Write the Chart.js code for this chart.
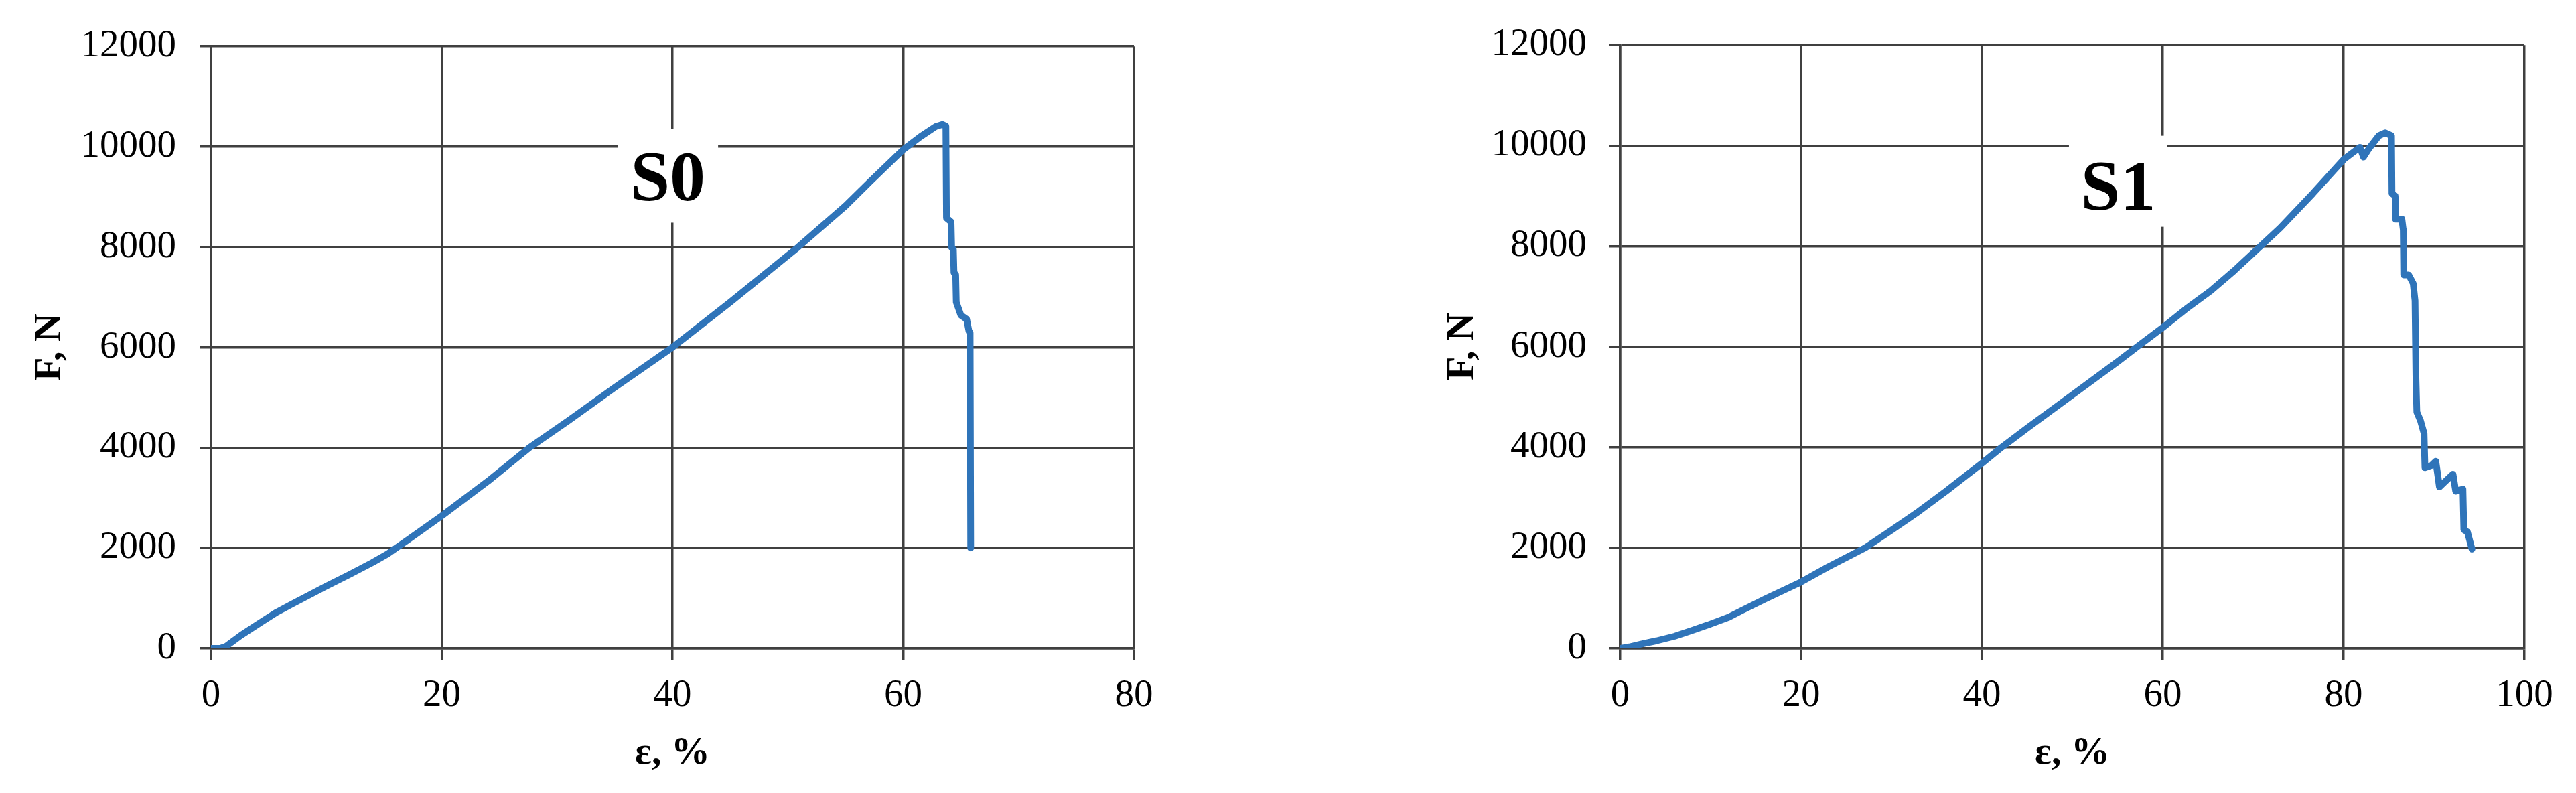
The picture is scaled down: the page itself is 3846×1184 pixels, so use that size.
<!DOCTYPE html>
<html>
<head>
<meta charset="utf-8">
<script src="https://cdn.jsdelivr.net/npm/chart.js@4.4.1/dist/chart.umd.min.js"></script>
<style>
  html, body { margin: 0; padding: 0; background: #fff; }
  body { width: 3846px; height: 1184px; position: relative; overflow: hidden; }
  canvas { position: absolute; top: 0; }
  #chartS0 { left: 0; }
  #chartS1 { left: 2100px; }
</style>
</head>
<body>
<canvas id="chartS0" width="1750" height="1184"></canvas>
<canvas id="chartS1" width="1746" height="1184"></canvas>
<script>
// S0 sample: strain (%) and force (N)
const s0Strain = [0, 0.8, 1.3, 2.6, 4.2, 5.7, 7, 8.5, 10, 12, 14, 15.3, 17, 20, 24, 27.6, 31, 35, 40, 45, 50.9, 55, 57.2, 60, 61.5, 62.8, 63.4, 63.7,
  63.75, 64.15, 64.2, 64.35, 64.4, 64.55, 64.6, 65.0, 65.5, 65.7, 65.8, 65.85];
const s0Force = [0, 0, 40, 260, 500, 720, 880, 1060, 1240, 1470, 1710, 1880, 2150, 2640, 3330, 4000, 4540, 5200, 6000, 6900, 8000, 8820, 9320, 9940, 10200, 10400, 10445, 10410,
  8580, 8500, 7990, 7950, 7490, 7450, 6900, 6640, 6560, 6320, 6290, 2000];

// S1 sample
const s1Strain = [0, 1, 2.3, 4, 6, 8, 9.7, 12, 13.4, 16, 18, 20, 23, 27.1, 30, 33, 36, 40, 42.2, 45, 50, 55, 57.2, 60, 62.5, 65.3, 67.9, 70.45, 73, 76.6, 80,
  81.8, 82.2, 82.8, 83.9, 84.6, 85.3, 85.35, 85.7, 85.75, 86.45, 86.6, 86.65, 87.2, 87.7, 87.9, 88.0, 88.1, 88.5, 88.9, 89.0, 89.7, 90.2, 90.6, 91.1, 92.1, 92.4, 93.2, 93.3, 93.7, 94.2];
const s1Force = [0, 30, 84, 150, 240, 360, 465, 620, 748, 980, 1150, 1320, 1620, 2000, 2350, 2720, 3120, 3680, 4000, 4380, 5040, 5700, 6000, 6380, 6740, 7110, 7512, 7938, 8364, 9046, 9720,
  9966, 9770, 9940, 10196, 10255, 10196, 9046, 9000, 8535, 8535, 8320, 7427, 7427, 7257, 6916, 5382, 4700, 4530, 4275, 3593, 3636, 3721, 3210, 3295, 3465, 3124, 3167, 2358, 2315, 1974];

const forceTicks = [0, 2000, 4000, 6000, 8000, 10000, 12000];
const s0StrainTicks = [0, 20, 40, 60, 80];
const s1StrainTicks = [0, 20, 40, 60, 80, 100];

const xTitle = 'ε, %';
const yTitle = 'F, N';

const gridColor = '#404040';
const lineColor = '#2f74b9';
const serif = '"Liberation Serif", "Times New Roman", serif';

// white box with the sample name, placed in data coordinates
const sampleLabel = {
  id: 'sampleLabel',
  beforeDatasetsDraw(chart, args, opts) {
    const { ctx, scales: { x, y } } = chart;
    const cx = x.getPixelForValue(opts.x);
    const cy = y.getPixelForValue(opts.y);
    ctx.save();
    ctx.fillStyle = '#fff';
    ctx.fillRect(cx - opts.w / 2, cy - opts.h / 2, opts.w, opts.h);
    ctx.fillStyle = '#000';
    ctx.font = 'bold 106px ' + serif;
    ctx.textAlign = 'center';
    ctx.textBaseline = 'alphabetic';
    ctx.fillText(opts.text, cx + (opts.dx || 0), cy + 36 + (opts.dy || 0));
    ctx.restore();
  }
};

function makeChart(id, strain, force, strainTicks, xMax, cfg) {
  const points = strain.map((v, i) => ({ x: v, y: force[i] }));
  return new Chart(document.getElementById(id), {
    type: 'scatter',
    data: {
      datasets: [{
        data: points,
        showLine: true,
        borderColor: lineColor,
        borderWidth: 10,
        pointRadius: 0,
        tension: 0,
        borderJoinStyle: 'round',
        borderCapStyle: 'round'
      }]
    },
    options: {
      responsive: false,
      animation: false,
      devicePixelRatio: 1,
      layout: { padding: { left: 0, top: cfg.top, right: cfg.right, bottom: 0 } },
      plugins: {
        legend: { display: false },
        tooltip: { enabled: false },
        sampleLabel: cfg.label
      },
      scales: {
        x: {
          type: 'linear',
          min: 0,
          max: xMax,
          afterBuildTicks: s => { s.ticks = strainTicks.map(v => ({ value: v })); },
          afterFit: s => { s.height = 216; },
          grid: { color: gridColor, lineWidth: 3.5, tickLength: 18, drawTicks: true },
          border: { color: gridColor, width: 3.5 },
          ticks: { color: '#000', font: { family: serif, size: 57 }, padding: 19, maxRotation: 0, callback: v => String(v) },
          title: {
            display: true, text: xTitle, color: '#000',
            font: { family: serif, size: 58, weight: 'bold' },
            padding: { top: 0, bottom: 24 }
          }
        },
        y: {
          type: 'linear',
          min: 0,
          max: 12000,
          afterBuildTicks: s => { s.ticks = forceTicks.map(v => ({ value: v })); },
          afterFit: s => { s.width = cfg.yWidth; },
          grid: { color: gridColor, lineWidth: 3.5, tickLength: 17, drawTicks: true },
          border: { color: gridColor, width: 3.5 },
          ticks: { color: '#000', font: { family: serif, size: 57 }, padding: cfg.tickPad, callback: v => String(v) },
          title: {
            display: true, text: yTitle, color: '#000',
            font: { family: serif, size: 58, weight: 'bold' },
            padding: { top: cfg.titlePad, bottom: 0 }
          }
        }
      }
    },
    plugins: [sampleLabel]
  });
}

makeChart('chartS0', s0Strain, s0Force, s0StrainTicks, 80, {
  top: 62, right: 57, yWidth: 315, tickPad: 35, titlePad: 40,
  label: { text: 'S0', x: 39.6, y: 9420, w: 150, h: 140, dy: 1 }
});

makeChart('chartS1', s1Strain, s1Force, s1StrainTicks, 100, {
  top: 64, right: 77, yWidth: 319, tickPad: 33, titlePad: 49,
  label: { text: 'S1', x: 55.07, y: 9290, w: 147, h: 136, dy: 6 }
});
</script>
</body>
</html>
